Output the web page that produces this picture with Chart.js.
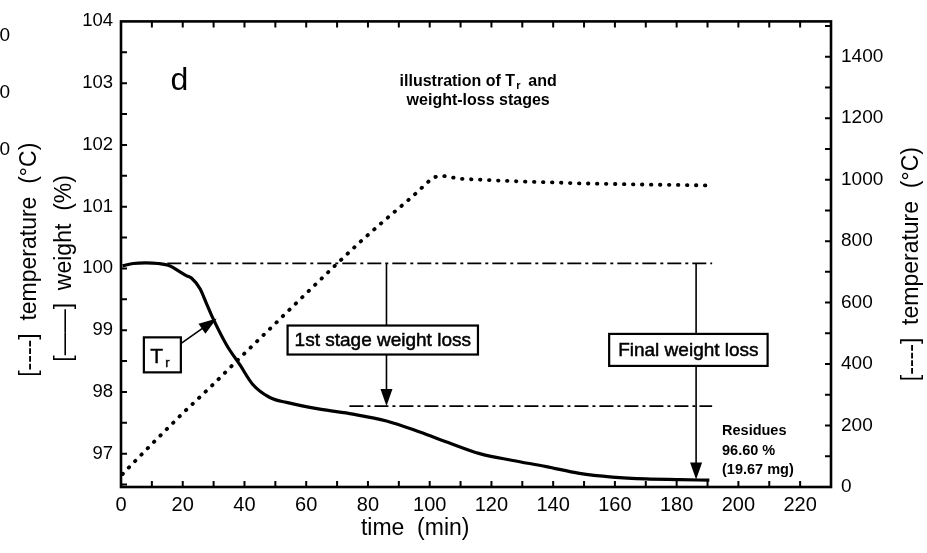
<!DOCTYPE html>
<html><head><meta charset="utf-8">
<script src="https://cdn.jsdelivr.net/npm/chart.js@4.4.1/dist/chart.umd.min.js"></script>
<style>html,body{margin:0;padding:0;background:#fff;overflow:hidden}#wrap{width:927px;height:553px;position:relative}</style>
</head><body><div id="wrap"><canvas id="c" width="927" height="553"></canvas></div>
<script>
// ---------- data ----------
const timeTicks = [0, 20, 40, 60, 80, 100, 120, 140, 160, 180, 200, 220];
const weightTicks = [97, 98, 99, 100, 101, 102, 103, 104];
const tempTicks = [0, 200, 400, 600, 800, 1000, 1200, 1400];

const weightTime = [0.5, 4, 8, 12, 15.9, 18.6, 21.3, 22.9, 25.6, 27.7, 29.8, 34.2, 38.5, 42.7, 48.2, 53.6, 64.4, 75.1, 86, 96.8, 106, 116.2, 126.9, 137.8, 148.5, 159.2, 170.1, 181, 190.6];
const weightValues = [100.04, 100.08, 100.09, 100.08, 100.04, 99.96, 99.88, 99.84, 99.67, 99.43, 99.19, 98.76, 98.44, 98.12, 97.91, 97.83, 97.72, 97.64, 97.53, 97.35, 97.18, 97.0, 96.89, 96.79, 96.68, 96.62, 96.59, 96.58, 96.57];

const tempTime = [0.5, 1.8, 10, 20, 30, 38.5, 50, 60, 70, 77.3, 83.8, 94.5, 101, 103.8, 110, 120, 130, 140, 148.5, 160, 170, 180, 191];
const tempValues = [42, 56, 140, 240, 335, 420, 532, 630, 727, 796, 854, 946, 1007, 1013, 1003, 998, 994, 991, 988, 986, 984, 983, 981];

const initialLevel = 100.08;      // weight level before loss (%)
const stage1Level = 97.77;        // weight level after 1st stage (%)
const initialSpan = [15, 191.5];  // time span of reference lines (min)
const stage1Span = [74, 191.5];
const stage1ArrowTime = 86;
const finalArrowTime = 186.3;
const finalArrowTip = 96.58;
const trArrowFrom = [19.6, 98.79];
const trArrowTo = [31.0, 99.19];

// axis ranges
const xRange = [0, 230];
const wRange = [96.46, 104];
const tRange = [0, 1515];
const xMinorStep = 10, wMinorStep = 0.5, tMinorStep = 100;

// ---------- chart ----------
const FONT = "'Liberation Sans', Arial, Helvetica, sans-serif";
Chart.defaults.font.family = FONT;
Chart.defaults.color = '#000';

const toXY = (xs, ys) => xs.map((v, i) => ({x: v, y: ys[i]}));

function drawArrow(ctx, x1, y1, x2, y2, hl, hw) {
  const a = Math.atan2(y2 - y1, x2 - x1), c = Math.cos(a), s = Math.sin(a);
  ctx.beginPath(); ctx.moveTo(x1, y1); ctx.lineTo(x2 - hl * 0.8 * c, y2 - hl * 0.8 * s); ctx.stroke();
  ctx.beginPath(); ctx.moveTo(x2, y2);
  ctx.lineTo(x2 - hl * c + hw / 2 * s, y2 - hl * s - hw / 2 * c);
  ctx.lineTo(x2 - hl * c - hw / 2 * s, y2 - hl * s + hw / 2 * c);
  ctx.closePath(); ctx.fill();
}
function boldText(ctx, txt, x, y, w) {
  ctx.fillText(txt, x, y);
  if (w) { ctx.lineWidth = w; ctx.strokeText(txt, x, y); }
}
function box(ctx, cx, cy, w, h) {
  ctx.fillStyle = '#fff'; ctx.fillRect(cx - w / 2, cy - h / 2, w, h);
  ctx.lineWidth = 2.2; ctx.strokeStyle = '#000'; ctx.strokeRect(cx - w / 2, cy - h / 2, w, h);
  ctx.fillStyle = '#000';
}

const annot = {
  id: 'annot',
  afterDatasetsDraw(chart) {
    const {ctx, chartArea: a, scales: {x, y}} = chart;
    ctx.save();
    ctx.strokeStyle = '#000'; ctx.fillStyle = '#000';
    ctx.lineWidth = 1.6;
    const ax1 = x.getPixelForValue(stage1ArrowTime);
    drawArrow(ctx, ax1, y.getPixelForValue(initialLevel), ax1, y.getPixelForValue(stage1Level), 17, 12);
    const ax2 = x.getPixelForValue(finalArrowTime);
    ctx.lineWidth = 1.6;
    drawArrow(ctx, ax2, y.getPixelForValue(initialLevel), ax2, y.getPixelForValue(finalArrowTip), 17, 12);
    ctx.lineWidth = 1.6;
    drawArrow(ctx, x.getPixelForValue(trArrowFrom[0]), y.getPixelForValue(trArrowFrom[1]),
      x.getPixelForValue(trArrowTo[0]), y.getPixelForValue(trArrowTo[1]), 18, 12);

    ctx.textBaseline = 'middle'; ctx.textAlign = 'center';
    ctx.font = `19px ${FONT}`;
    let cx = x.getPixelForValue(84.8), cy = y.getPixelForValue(98.84);
    box(ctx, cx, cy, ctx.measureText('1st stage weight loss').width + 14, 29);
    ctx.font = `19px ${FONT}`; ctx.strokeStyle = '#000';
    boldText(ctx, '1st stage weight loss', cx, cy + 1, 0.5);
    cx = x.getPixelForValue(183.8); cy = y.getPixelForValue(98.68);
    ctx.font = `19px ${FONT}`;
    box(ctx, cx, cy, ctx.measureText('Final weight loss').width + 18, 32);
    boldText(ctx, 'Final weight loss', cx, cy + 1, 0.5);
    cx = x.getPixelForValue(13.4); cy = y.getPixelForValue(98.6);
    box(ctx, cx, cy, 37, 35);
    ctx.textAlign = 'left'; ctx.textBaseline = 'alphabetic';
    ctx.font = `21px ${FONT}`;
    boldText(ctx, 'T', cx - 12, cy + 8, 0.4);
    ctx.font = `13px ${FONT}`;
    boldText(ctx, 'r', cx + 3, cy + 12, 0.4);

    ctx.font = `32px ${FONT}`; ctx.textAlign = 'center'; ctx.textBaseline = 'alphabetic';
    ctx.fillText('d', x.getPixelForValue(18.9), y.getPixelForValue(102.89));
    const l1a = 'illustration of T', l1b = 'r', l1c = '  and';
    ctx.textAlign = 'left'; ctx.textBaseline = 'middle';
    ctx.font = `bold 16px ${FONT}`;
    const wA = ctx.measureText(l1a).width, wC = ctx.measureText(l1c).width;
    ctx.font = `bold 11px ${FONT}`;
    const wB = ctx.measureText(l1b).width;
    const tcx = x.getPixelForValue(115.7);
    let sx = tcx - (wA + wB + wC) / 2, ty = y.getPixelForValue(103.03);
    ctx.font = `bold 16px ${FONT}`; ctx.fillText(l1a, sx, ty);
    ctx.font = `bold 11px ${FONT}`; ctx.fillText(l1b, sx + wA + 1, ty + 5);
    ctx.font = `bold 16px ${FONT}`; ctx.fillText(l1c, sx + wA + wB, ty);
    ctx.textAlign = 'center';
    ctx.fillText('weight-loss stages', tcx, y.getPixelForValue(102.71));
    ctx.textAlign = 'left'; ctx.font = `bold 14.5px ${FONT}`;
    const rx = x.getPixelForValue(194.7);
    ctx.fillText('Residues', rx, y.getPixelForValue(97.37));
    ctx.fillText('96.60 %', rx, y.getPixelForValue(97.05));
    ctx.fillText('(19.67 mg)', rx, y.getPixelForValue(96.73));
    ctx.restore();
  },
  afterDraw(chart) {
    const {ctx, chartArea: a, scales: {x, y, y2}} = chart;
    ctx.save();
    ctx.strokeStyle = '#000'; ctx.fillStyle = '#000';
    ctx.lineWidth = 2;
    ctx.beginPath();
    for (let t = xRange[0] + xMinorStep; t < xRange[1]; t += xMinorStep) {
      const p = x.getPixelForValue(t);
      ctx.moveTo(p, a.bottom); ctx.lineTo(p, a.bottom - 6);
      ctx.moveTo(p, a.top); ctx.lineTo(p, a.top + 6);
    }
    for (let v = 97 - wMinorStep; v < wRange[1]; v += wMinorStep) {
      if (v <= wRange[0]) continue;
      const p = y.getPixelForValue(v);
      ctx.moveTo(a.left, p); ctx.lineTo(a.left + 6, p);
    }
    for (let v = tMinorStep; v < tRange[1]; v += tMinorStep) {
      const p = y2.getPixelForValue(v);
      ctx.moveTo(a.right, p); ctx.lineTo(a.right - 6, p);
    }
    ctx.stroke();
    ctx.lineWidth = 2.6;
    ctx.strokeRect(a.left, a.top, a.width, a.height);

    ctx.textAlign = 'center'; ctx.textBaseline = 'middle';
    ctx.font = `23px ${FONT}`;
    ctx.fillText('time  (min)', x.getPixelForValue(95.3), 529);
    const rot = (txt, px, py) => { ctx.save(); ctx.translate(px, py); ctx.rotate(-Math.PI / 2); ctx.fillText(txt, 0, 0); ctx.restore(); };
    rot('[----]  temperature  (°C)', a.left - 91, y.getPixelForValue(100.14));
    rot('[——]  weight  (%)', a.left - 56, y.getPixelForValue(100.0));
    rot('[----]  temperature  (°C)', a.right + 81, y.getPixelForValue(100.07));
    ctx.font = `19px ${FONT}`; ctx.textAlign = 'right';
    ctx.fillText('1400', a.left - 111, 36);
    ctx.fillText('1200', a.left - 111, 93);
    ctx.fillText('1000', a.left - 111, 150);
    ctx.restore();
  }
};

new Chart(document.getElementById('c'), {
  type: 'line',
  data: {
    datasets: [
      {label: 'weight', data: toXY(weightTime, weightValues), yAxisID: 'y', borderColor: '#000', borderWidth: 3.2, pointRadius: 0, cubicInterpolationMode: 'monotone', fill: false},
      {label: 'temperature', data: toXY(tempTime, tempValues), yAxisID: 'y2', borderColor: '#000', borderWidth: 3.8, borderDash: [0.5, 8.5], borderCapStyle: 'round', pointRadius: 0, tension: 0, fill: false},
      {label: 'initial', data: toXY(initialSpan, [initialLevel, initialLevel]), yAxisID: 'y', borderColor: '#000', borderWidth: 1.7, borderDash: [14, 4, 3, 4], pointRadius: 0},
      {label: 'stage1', data: toXY(stage1Span, [stage1Level, stage1Level]), yAxisID: 'y', borderColor: '#000', borderWidth: 1.7, borderDash: [14, 4, 3, 4], pointRadius: 0}
    ]
  },
  options: {
    responsive: false, animation: false,
    layout: {padding: {top: 16, left: 0, right: 0, bottom: 0}},
    plugins: {legend: {display: false}, tooltip: {enabled: false}},
    scales: {
      x: {
        type: 'linear', position: 'bottom', min: xRange[0], max: xRange[1],
        grid: {display: false, drawTicks: false}, border: {display: false},
        ticks: {font: {size: 20}, padding: 6, autoSkip: false, maxRotation: 0, color: '#000', callback: v => String(v)},
        afterBuildTicks: s => { s.ticks = timeTicks.map(v => ({value: v})); },
        afterFit: s => { s.height = 66; }
      },
      y: {
        type: 'linear', position: 'left', min: wRange[0], max: wRange[1],
        grid: {display: false, drawTicks: false}, border: {display: false},
        ticks: {font: {size: 18.5}, padding: 8, color: '#000', callback: v => String(v)},
        afterBuildTicks: s => { s.ticks = weightTicks.map(v => ({value: v})); },
        afterFit: s => { s.width = 121; }
      },
      y2: {
        type: 'linear', position: 'right', min: tRange[0], max: tRange[1],
        grid: {display: false, drawTicks: false}, border: {display: false},
        ticks: {font: {size: 19}, padding: 10, color: '#000', callback: v => String(v)},
        afterBuildTicks: s => { s.ticks = tempTicks.map(v => ({value: v})); },
        afterFit: s => { s.width = 96; }
      }
    }
  },
  plugins: [annot]
});
</script>
</body></html>
